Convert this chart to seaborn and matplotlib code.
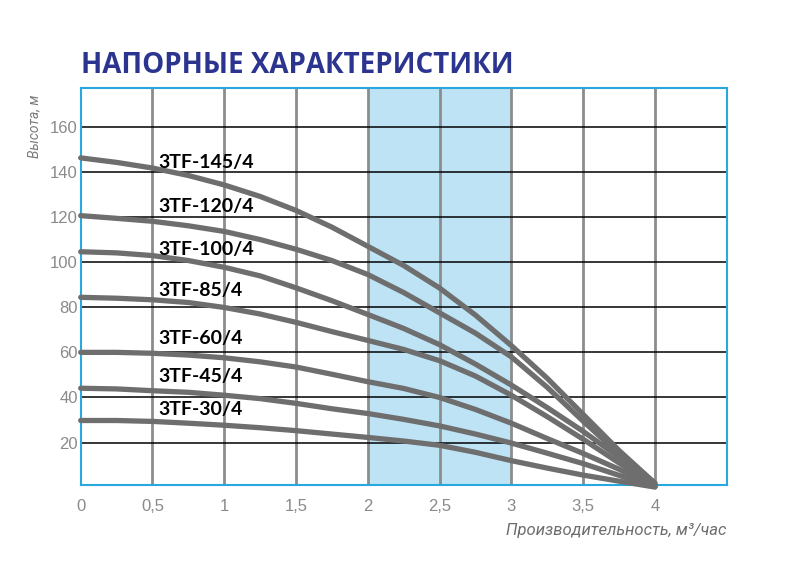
import pandas as pd
import matplotlib.pyplot as plt
import seaborn as sns

# flow, m3/h
flow = [0, 0.25, 0.5, 0.75, 1, 1.25, 1.5, 1.75, 2, 2.25, 2.5, 2.75, 3, 3.25, 3.5, 3.75, 4]

# head curves, m
head_145 = [146.2, 144.2, 141.7, 138.4, 134.2, 129.1, 122.9, 115.5, 107, 98.5, 88.5, 76.5, 63, 48.5, 32.5, 16.5, 2]
head_120 = [120.6, 119.4, 118.1, 116.1, 113.6, 110, 105.7, 100.7, 94.5, 86.5, 77.5, 68.5, 58, 44.5, 29.5, 15, 2]
head_100 = [104.6, 104.1, 102.9, 100.7, 97.7, 93.9, 88.6, 82.9, 76.8, 70.6, 63.4, 54.8, 45.5, 35.5, 25, 13.5, 1]
head_85 = [84.4, 84, 83.3, 82.1, 79.9, 77, 73.3, 69.2, 65.3, 61.3, 56.3, 49.5, 41, 31.5, 21.5, 11, 1]
head_60 = [60, 60, 59.6, 58.8, 57.6, 55.8, 53.5, 50.3, 47, 44, 40, 34.7, 28.6, 21.8, 15.2, 8.2, 0.5]
head_45 = [44.1, 43.8, 43, 42.3, 41, 39.5, 37.4, 35, 32.9, 30.3, 27.4, 23.8, 19.8, 15.3, 10.7, 5.5, 0.5]
head_30 = [29.8, 29.8, 29.4, 28.6, 27.7, 26.6, 25.3, 23.8, 22.3, 20.7, 18.8, 15.7, 12, 8.7, 5.6, 2.9, 0.3]

models = ["3TF-145/4", "3TF-120/4", "3TF-100/4", "3TF-85/4", "3TF-60/4", "3TF-45/4", "3TF-30/4"]
heads = [head_145, head_120, head_100, head_85, head_60, head_45, head_30]
label_y = [144, 124.5, 105.5, 87.5, 66, 49.5, 34.5]

x_ticks = [0, 0.5, 1, 1.5, 2, 2.5, 3, 3.5, 4]
x_tick_labels = ["0", "0,5", "1", "1,5", "2", "2,5", "3", "3,5", "4"]
y_ticks = [20, 40, 60, 80, 100, 120, 140, 160]

rows = []
for m, h in zip(models, heads):
    for q, v in zip(flow, h):
        rows.append({"model": m, "q": q, "h": v})
df = pd.DataFrame(rows)

sns.set_style("white")
plt.rcParams["font.family"] = ["Liberation Sans", "DejaVu Sans"]

fig = plt.figure(figsize=(8.07, 5.74), dpi=100)
ax = fig.add_axes([0.1, 0.155, 0.8005, 0.691])

# working range
ax.axvspan(2, 3, color="#bde3f5", zorder=0, lw=0)

for v in x_ticks[1:]:
    ax.axvline(v, color="#8c8c8c", lw=2, zorder=1)
for v in y_ticks:
    ax.axhline(v, color="black", lw=1.1, zorder=1)

sns.lineplot(data=df, x="q", y="h", hue="model", palette=["#6e6e6e"] * 7,
             legend=False, linewidth=3.8, sort=False, ax=ax, zorder=3)
for line in ax.lines[-7:]:
    line.set_solid_capstyle("round")
    line.set_solid_joinstyle("round")
    line.set_clip_on(False)

for m, yl in zip(models, label_y):
    ax.text(0.54, yl, m, fontsize=14, fontweight="bold", color="black",
            family=["Lato", "DejaVu Sans"], va="center", ha="left", zorder=4)

ax.set_xlim(0, 4.5)
ax.set_ylim(1.2, 177)
ax.set_xticks(x_ticks)
ax.set_xticklabels(x_tick_labels)
ax.set_yticks(y_ticks)
ax.tick_params(axis="both", length=0, labelsize=12, labelcolor="#8a8a8a")
ax.tick_params(axis="x", pad=10)
ax.tick_params(axis="y", pad=2)
for s in ax.spines.values():
    s.set_color("#29a8e0")
    s.set_linewidth(1.5)
ax.set_xlabel("")
ax.set_ylabel("")

fig.text(0.1, 0.886, "НАПОРНЫЕ ХАРАКТЕРИСТИКИ", fontsize=20, fontweight="bold",
         color="#2b3590", family=["Open Sans", "DejaVu Sans"], va="center", ha="left")
fig.text(0.9, 0.076, "Производительность, м³/час", fontsize=12, style="italic",
         color="#6e6e6e", family=["Roboto", "DejaVu Sans"],
         ha="right", va="center")
fig.text(0.043, 0.78, "Высота, м", fontsize=10, style="italic", rotation=90,
         color="#7a7a7a", family=["Roboto", "DejaVu Sans"],
         ha="center", va="center")

fig.savefig("out.png", dpi=100)
